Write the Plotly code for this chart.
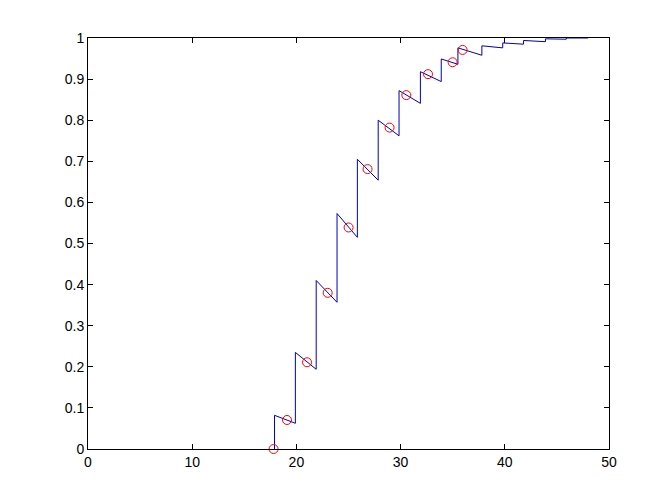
import plotly.graph_objects as go

# Blue sawtooth line vertices
line_x = [17.9, 17.9, 19.9, 19.9, 21.9, 21.9, 23.9, 23.9, 25.85, 25.85, 27.85, 27.85,
          29.85, 29.85, 31.9, 31.9, 33.9, 33.9, 35.5, 35.5, 37.8, 37.8, 39.8, 39.8,
          41.8, 41.8, 43.9, 43.9, 45.9, 45.9, 48.0]
line_y = [0.0, 0.082, 0.0625, 0.235, 0.194, 0.41, 0.357, 0.573, 0.515, 0.705, 0.654, 0.80,
          0.762, 0.872, 0.841, 0.918, 0.894, 0.949, 0.936, 0.976, 0.958, 0.981, 0.976, 0.988,
          0.985, 0.994, 0.991, 0.998, 0.997, 1.0, 1.0]

# Red circle markers
circle_x = [17.81, 19.1, 21.02, 23.0, 25.01, 26.83, 28.94, 30.55, 32.63, 34.99, 35.95]
circle_y = [0.0, 0.0706, 0.211, 0.380, 0.539, 0.681, 0.782, 0.861, 0.912, 0.941, 0.971]

x_ticks = [0, 10, 20, 30, 40, 50]
y_ticks = [0, 0.1, 0.2, 0.3, 0.4, 0.5, 0.6, 0.7, 0.8, 0.9, 1]
y_ticklabels = ["0", "0.1", "0.2", "0.3", "0.4", "0.5", "0.6", "0.7", "0.8", "0.9", "1"]

fig = go.Figure()
fig.add_trace(go.Scatter(x=line_x, y=line_y, mode="lines",
                         line=dict(color="#0000b4", width=1), showlegend=False))
fig.add_trace(go.Scatter(x=circle_x, y=circle_y, mode="markers",
                         marker=dict(symbol="circle-open", size=9,
                                     line=dict(color="#ff0000", width=1), color="#ff0000"),
                         cliponaxis=False, showlegend=False))

axis_common = dict(showgrid=False, zeroline=False, showline=True, linecolor="black",
                   linewidth=1, mirror="ticks", ticks="inside", ticklen=5,
                   tickcolor="black", tickwidth=1,
                   tickfont=dict(family="Liberation Sans, Arial, sans-serif", size=14, color="black"))

fig.update_layout(
    width=672, height=504,
    paper_bgcolor="white", plot_bgcolor="white",
    margin=dict(l=80, r=71, t=30, b=63),
    xaxis=dict(range=[0, 50], tickvals=x_ticks, ticktext=[str(v) for v in x_ticks], **axis_common),
    yaxis=dict(range=[0, 1], tickvals=y_ticks, ticktext=y_ticklabels, **axis_common),
)

fig.write_html("out.html")
